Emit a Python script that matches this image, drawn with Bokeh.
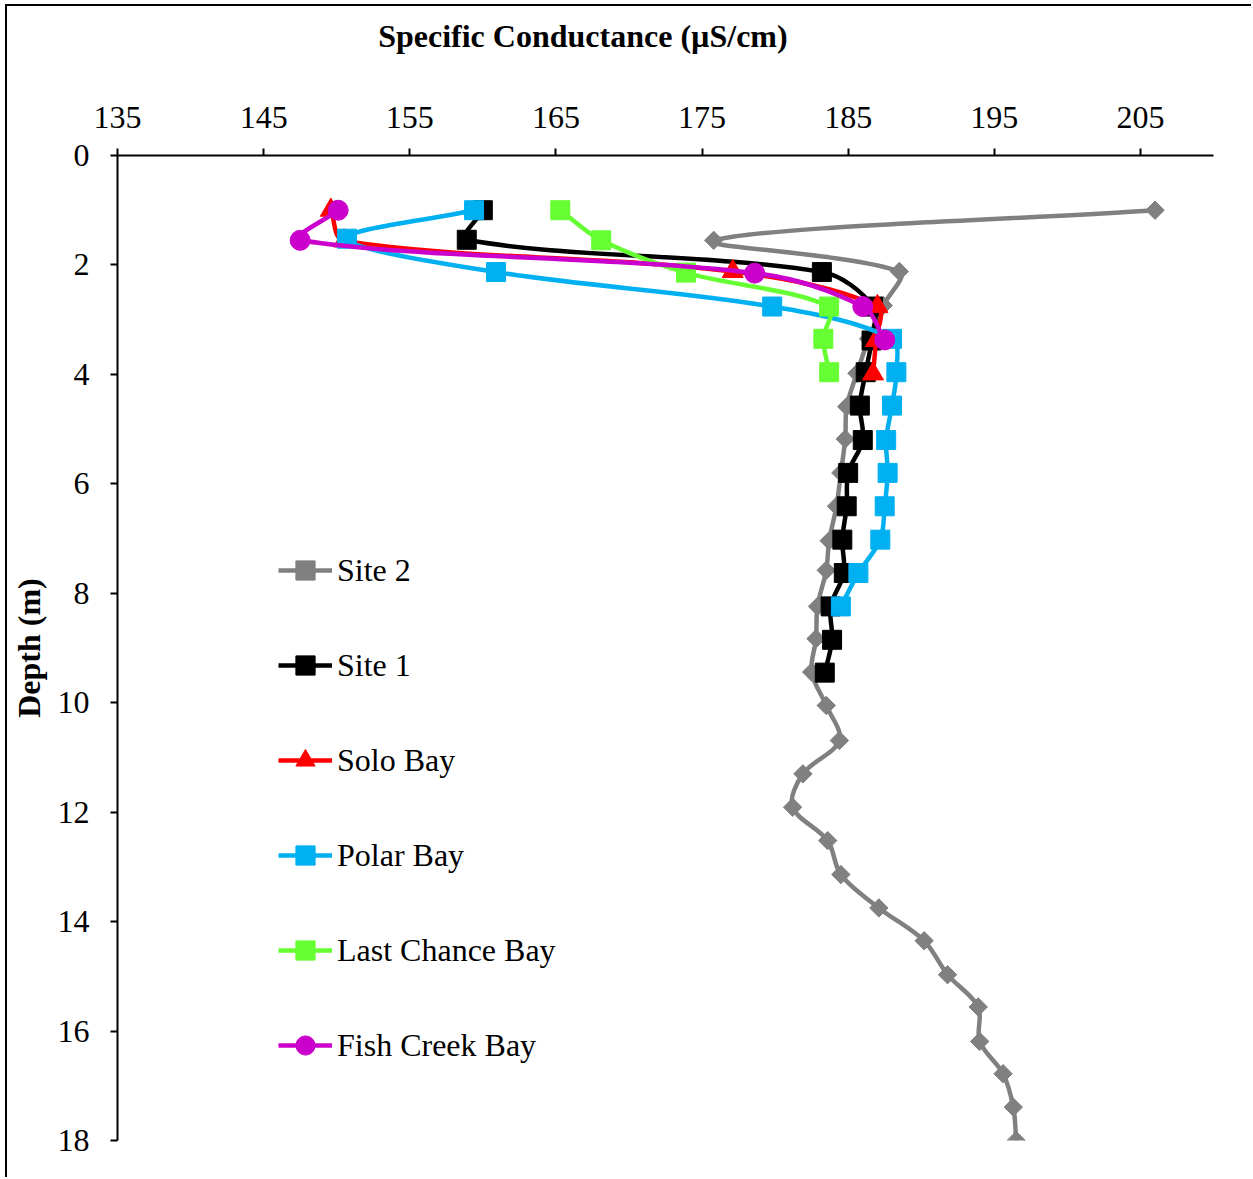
from bokeh.plotting import figure
from bokeh.models import Range1d, FixedTicker, Legend, LegendItem, ColumnDataSource, LinearAxis
from bokeh.embed import file_html
from bokeh.resources import INLINE
import math

# ---------------- data ----------------
x_ticks = [135, 145, 155, 165, 175, 185, 195, 205]
y_ticks = [0, 2, 4, 6, 8, 10, 12, 14, 16, 18]

site2_depth = [1.0, 1.55, 2.12, 2.74, 3.35, 3.98, 4.59, 5.18, 5.8, 6.41, 7.04, 7.58, 8.24, 8.83, 9.44,
               10.05, 10.69, 11.30, 11.91, 12.52, 13.14, 13.75, 14.35, 14.97, 15.56, 16.19, 16.78, 17.39, 18.0]
site2_sc = [206.0, 175.8, 188.5, 187.4, 186.4, 185.6, 184.9, 184.8, 184.5, 184.2, 183.7, 183.5, 182.9, 182.8, 182.5,
            183.5, 184.4, 181.9, 181.2, 183.6, 184.5, 187.1, 190.2, 191.8, 193.9, 194.0, 195.6, 196.3, 196.5]

site1_depth = [1.0, 1.54, 2.13, 2.76, 3.38, 3.96, 4.57, 5.2, 5.8, 6.41, 7.02, 7.63, 8.24, 8.85, 9.45]
site1_sc = [160.0, 158.9, 183.2, 186.7, 186.6, 186.2, 185.8, 186.0, 185.0, 184.9, 184.6, 184.7, 183.8, 183.9, 183.4]

solo_depth = [1.0, 1.56, 2.12, 2.76, 3.38, 3.99]
solo_sc = [149.6, 150.5, 177.1, 187.0, 186.9, 186.7]

polar_depth = [1.0, 1.52, 2.13, 2.76, 3.35, 3.96, 4.57, 5.2, 5.8, 6.41, 7.02, 7.63, 8.24]
polar_sc = [159.4, 150.7, 160.9, 179.8, 188.0, 188.3, 188.0, 187.6, 187.7, 187.5, 187.2, 185.7, 184.5]

lastchance_depth = [1.0, 1.55, 2.14, 2.76, 3.35, 3.96]
lastchance_sc = [165.3, 168.1, 173.9, 183.7, 183.3, 183.7]

fishcreek_depth = [1.0, 1.55, 2.15, 2.76, 3.37]
fishcreek_sc = [150.1, 147.5, 178.6, 186.0, 187.5]

x_title = "Specific Conductance (µS/cm)"
y_title = "Depth (m)"

series = [
    ("Site 2", site2_sc, site2_depth, "#808080", "square", 13, math.pi / 4),
    ("Site 1", site1_sc, site1_depth, "#000000", "square", 19, 0.0),
    ("Solo Bay", solo_sc, solo_depth, "#FF0000", "triangle", 21, 0.0),
    ("Polar Bay", polar_sc, polar_depth, "#00B0F0", "square", 19, 0.0),
    ("Last Chance Bay", lastchance_sc, lastchance_depth, "#66FF33", "square", 19, 0.0),
    ("Fish Creek Bay", fishcreek_sc, fishcreek_depth, "#CC00CC", "circle", 20, 0.0),
]

# ---------------- layout constants ----------------
W, H = 1246, 1173
MB_L, MB_T, MB_R, MB_B = 110, 149, 40, 39
X0, X1 = 135, 210
Y0, Y1 = 18, 0
FRAME_W = W - MB_L - MB_R
FRAME_H = H - MB_T - MB_B
KX = FRAME_W / (X1 - X0)      # px per unit (for smoothing weights)
KY = FRAME_H / abs(Y0 - Y1)
TITLE_CENTER = 166.85          # horizontal centre of the x-axis title (axis units), as in the original


def smooth_segments(xs, ys):
    """Smoothed-line Bezier control points (chord-weighted Catmull-Rom) through the data."""
    n = len(xs)
    P = [(x * KX, y * KY) for x, y in zip(xs, ys)]

    def dist(i, j):
        return math.hypot(P[i][0] - P[j][0], P[i][1] - P[j][1])

    tang, dprev, dnext = [], [], []
    for i in range(n):
        a, b = max(i - 1, 0), min(i + 1, n - 1)
        tang.append((P[b][0] - P[a][0], P[b][1] - P[a][1]))
        dprev.append(dist(i - 1, i) if i > 0 else 0.0)
        dnext.append(dist(i, i + 1) if i < n - 1 else 0.0)

    d = dict(x0=[], y0=[], x1=[], y1=[], cx0=[], cy0=[], cx1=[], cy1=[])
    for i in range(n - 1):
        j = i + 1
        s0 = dnext[i] / (dprev[i] + dnext[i]) / 3.0 if (dprev[i] + dnext[i]) > 0 else 0
        s1 = dprev[j] / (dprev[j] + dnext[j]) / 3.0 if (dprev[j] + dnext[j]) > 0 else 0
        d["x0"].append(xs[i]); d["y0"].append(ys[i])
        d["x1"].append(xs[j]); d["y1"].append(ys[j])
        d["cx0"].append((P[i][0] + tang[i][0] * s0) / KX)
        d["cy0"].append((P[i][1] + tang[i][1] * s0) / KY)
        d["cx1"].append((P[j][0] - tang[j][0] * s1) / KX)
        d["cy1"].append((P[j][1] - tang[j][1] * s1) / KY)
    return ColumnDataSource(d)


# ---------------- figure ----------------
FONT = "Liberation Serif"
p = figure(width=W, height=H,
           x_range=Range1d(X0, X1), y_range=Range1d(Y0, Y1),
           x_axis_location="above",
           output_backend="svg", toolbar_location=None,
           min_border_left=MB_L, min_border_top=MB_T,
           min_border_right=MB_R, min_border_bottom=MB_B)

# outer chart border (left and top edges visible in the window)
p.margin = (4, 0, 0, 5)
p.styles = {"border-left": "2px solid black", "border-top": "2px solid black"}

p.title.visible = False
p.title.standoff = 0

p.xgrid.visible = False
p.ygrid.visible = False
p.outline_line_color = None
p.background_fill_color = "white"
p.border_fill_color = "white"

p.xaxis.ticker = FixedTicker(ticks=x_ticks)
p.yaxis.ticker = FixedTicker(ticks=y_ticks)
for ax in (p.xaxis[0], p.yaxis[0]):
    ax.axis_line_width = 2
    ax.axis_line_color = "black"
    ax.major_tick_line_width = 2
    ax.major_tick_line_color = "black"
    ax.major_tick_out = 7
    ax.major_tick_in = 0
    ax.minor_tick_out = 0
    ax.minor_tick_in = 0
    ax.major_label_text_font = FONT
    ax.major_label_text_font_size = "32px"
    ax.major_label_text_color = "black"
    ax.major_label_standoff = 21

p.yaxis.axis_label = y_title
p.yaxis.axis_label_text_font = FONT
p.yaxis.axis_label_text_font_size = "32px"
p.yaxis.axis_label_text_font_style = "bold"
p.yaxis.axis_label_text_color = "black"
p.yaxis.axis_label_standoff = 8

# x-axis title: carried by an outer, line-less axis so it can sit left of centre like the original
title_axis = LinearAxis(ticker=FixedTicker(ticks=[TITLE_CENTER]),
                        major_label_overrides={TITLE_CENTER: x_title},
                        axis_line_color=None, major_tick_line_color=None,
                        minor_tick_line_color=None, major_tick_out=0, major_tick_in=0,
                        minor_tick_out=0, minor_tick_in=0,
                        major_label_standoff=50,
                        major_label_text_font=FONT, major_label_text_font_size="32px",
                        major_label_text_font_style="bold", major_label_text_color="black")
p.add_layout(title_axis, "above")

items = []
for name, xs, ys, color, marker, size, ang in series:
    src = smooth_segments(xs, ys)
    r_line = p.bezier(x0="x0", y0="y0", x1="x1", y1="y1", cx0="cx0", cy0="cy0", cx1="cx1", cy1="cy1",
                      source=src, line_color=color, line_width=4.5)
    r_pts = p.scatter(x=xs, y=ys, marker=marker, size=size, angle=ang,
                      fill_color=color, line_color=color, line_width=1)
    items.append(LegendItem(label=name, renderers=[r_line, r_pts]))

legend = Legend(items=items, location=(161, 71), orientation="vertical",
                glyph_width=54, glyph_height=48, label_height=48, spacing=47,
                label_standoff=5, padding=0, margin=0,
                label_text_font=FONT, label_text_font_size="32px", label_text_color="black",
                background_fill_alpha=0, border_line_color=None)
p.add_layout(legend, "center")

open("out.html", "w").write(file_html(p, INLINE))
